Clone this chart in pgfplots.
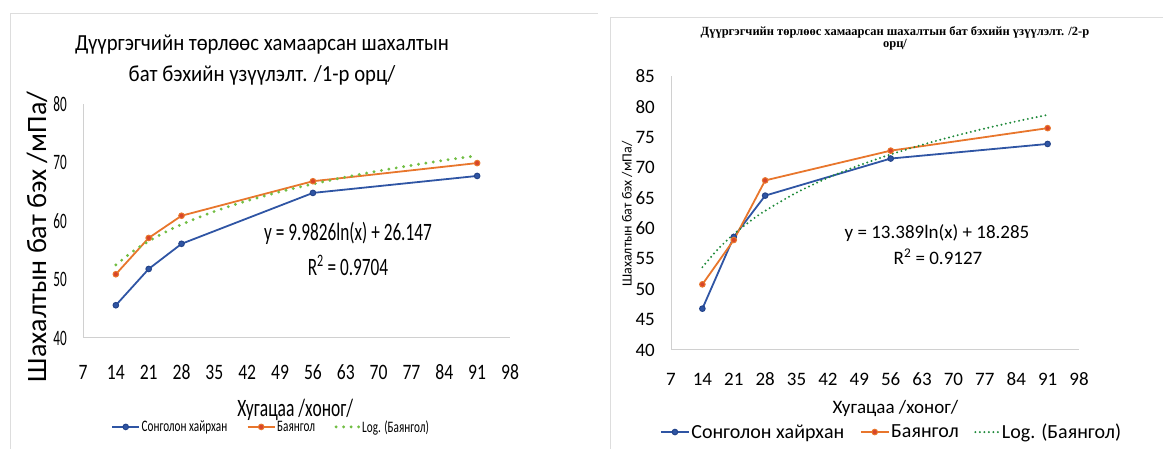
\documentclass[border=0pt]{standalone}
\usepackage{fontspec}
\setmainfont{Carlito}
\usepackage{pgfplots}
\pgfplotsset{compat=1.18}
\newfontfamily\cA[FakeStretch=0.6]{Carlito}
\newfontfamily\cE[FakeStretch=0.69]{Carlito}
\newfontfamily\cB[FakeStretch=0.8]{Carlito}
\newfontfamily\cC[FakeStretch=0.7]{Carlito}
\newfontfamily\cD[FakeStretch=0.9]{Carlito}
\newfontfamily\cN{Carlito}
\newfontfamily\rtf{Liberation Serif}
\newcommand\lytick{\cA\fontsize{22bp}{26bp}\selectfont}
\newcommand\lxtick{\cB\fontsize{22bp}{26bp}\selectfont}
\newcommand\lxlab{\cC\fontsize{25bp}{30bp}\selectfont}
\newcommand\lylab{\cN\fontsize{28bp}{32bp}\selectfont}
\newcommand\lleg{\cC\fontsize{16bp}{19bp}\selectfont}
\newcommand\leqfont{\cE\fontsize{25bp}{30bp}\selectfont}
\newcommand\ltitle{\cD\fontsize{23bp}{30bp}\selectfont}
\newcommand\rtick{\cN\fontsize{19bp}{22bp}\selectfont}
\newcommand\rylab{\cN\fontsize{14bp}{16bp}\selectfont}
\newcommand\rxlab{\cN\fontsize{19bp}{22bp}\selectfont}
\newcommand\rleg{\cN\fontsize{20bp}{24bp}\selectfont}
\newcommand\reqfont{\cN\fontsize{19bp}{23bp}\selectfont}
\newcommand\rtitle{\rtf\bfseries\fontsize{12.5bp}{13bp}\selectfont}
\definecolor{cblue}{HTML}{2F55A4}
\definecolor{cbluedk}{HTML}{24448A}
\definecolor{corange}{HTML}{E8762C}
\definecolor{cored}{HTML}{D8452A}
\definecolor{lgreen}{HTML}{72BE44}
\definecolor{dgreen}{HTML}{1F8A3A}
\definecolor{axgray}{HTML}{D0D0D0}
\definecolor{frgray}{HTML}{DDDDDD}
\pgfplotsset{
  common/.style={
    scale only axis, anchor=south west,
    xmin=7, xmax=98, xtick={7,14,...,98},
    axis x line=bottom, axis y line=left,
    axis line style={draw=axgray, line width=1bp, -},
    major tick length=0pt,
    /pgf/number format/assume math mode=true,
    legend columns=3, legend cell align=left,
    clip=false,
  },
  sblue/.style={color=cblue, line width=1.8bp, mark=*, mark size=2.8bp, mark options={draw=cbluedk, fill=cblue, line width=1bp}},
  sorange/.style={color=corange, line width=1.8bp, mark=*, mark size=2.8bp, mark options={draw=corange, fill=cored, line width=1bp}},
}
\begin{document}
\begin{tikzpicture}
\begin{scope}[x=1bp,y=1bp]
\useasboundingbox (0,0) rectangle (1163,449);
\draw[frgray, line width=0.8bp] (10,0) -- (10,436) -- (598,436);
\draw[frgray, line width=0.8bp] (610,0) -- (610,432) -- (1163,432);
\node[font=\ltitle, inner sep=0pt] at (262,404) {Дүүргэгчийн төрлөөс хамаарсан шахалтын};
\node[font=\ltitle, inner sep=0pt] at (262,374) {бат бэхийн үзүүлэлт. /1-р орц/};
\node[font=\leqfont, inner sep=0pt] at (348,216) {y = 9.9826ln(x) + 26.147};
\node[font=\leqfont, inner sep=0pt] at (348,184) {R\textsuperscript{2} = 0.9704};
\node[font=\rtitle, inner sep=0pt] at (895,417) {Дүүргэгчийн төрлөөс хамаарсан шахалтын бат бэхийн үзүүлэлт. /2-р};
\node[font=\rtitle, inner sep=0pt] at (895,404) {орц/};
\node[font=\reqfont, inner sep=0pt] at (937,216) {y = 13.389ln(x) + 18.285};
\node[font=\reqfont, inner sep=0pt] at (938,192) {R\textsuperscript{2} = 0.9127};
\end{scope}
% ---------------- left panel ----------------
\begin{axis}[common,
  at={(83bp,111bp)}, width=427bp, height=234bp,
  ymin=40, ymax=80, ytick={40,50,...,80},
  yticklabel style={font=\lytick, anchor=east, inner sep=0pt, xshift=-16bp},
  xticklabel style={font=\lxtick, anchor=center, inner sep=0pt, yshift=-34bp},
  xlabel={Хугацаа /хоног/},
  xlabel style={at={(axis description cs:0.497,-0.308)}, anchor=center, font=\lxlab, inner sep=0pt},
  ylabel={Шахалтын бат бэх /мПа/},
  ylabel style={at={(axis description cs:-0.108,0.432)}, anchor=center, font=\lylab, inner sep=0pt},
  legend style={at={(axis description cs:0.44,-0.38)}, anchor=center, draw=none, fill=none, font=\lleg, inner sep=0pt,
    nodes={inner sep=1.5bp},
    /tikz/every even column/.append style={column sep=18bp}},
  legend image code/.code={\draw[mark repeat=2,mark phase=2] plot coordinates {(0bp,0bp)(13.5bp,0bp)(27bp,0bp)};},
]
\addplot[sblue] coordinates {(14,45.6) (21,51.8) (28,56.1) (56,64.8) (91,67.7)};
\addlegendentry{Сонголон хайрхан}
\addplot[sorange] coordinates {(14,50.9) (21,57.1) (28,60.9) (56,66.8) (91,69.9)};
\addlegendentry{Баянгол}
\addplot[lgreen, line width=3.2bp, line cap=round, dash pattern=on 0bp off 7.5bp, smooth,
  legend image code/.code={\draw (2bp,0bp) -- (25bp,0bp);}] coordinates {
  (14,52.49) (17.5,54.72) (21,56.54) (24.5,58.08) (28,59.41) (35,61.64) (42,63.46)
  (49,65.00) (56,66.33) (63,67.51) (70,68.56) (77,69.51) (84,70.38) (91,71.18)};
\addlegendentry{Log. (Баянгол)}
\end{axis}
% ---------------- right panel ----------------
\begin{axis}[common,
  at={(671bp,99bp)}, width=408bp, height=273.5bp,
  ymin=40, ymax=85, ytick={40,45,...,85},
  yticklabel style={font=\rtick, anchor=east, inner sep=0pt, xshift=-16bp},
  xticklabel style={font=\rtick, anchor=center, inner sep=0pt, yshift=-29bp},
  xlabel={Хугацаа /хоног/},
  xlabel style={at={(axis description cs:0.55,-0.212)}, anchor=center, font=\rxlab, inner sep=0pt},
  ylabel={Шахалтын бат бэх /мПа/},
  ylabel style={at={(axis description cs:-0.108,0.497)}, anchor=center, font=\rylab, inner sep=0pt},
  legend style={at={(axis description cs:0.54,-0.30)}, anchor=center, draw=none, fill=none, font=\rleg, inner sep=0pt,
    nodes={inner sep=1.5bp},
    /tikz/every even column/.append style={column sep=14bp}},
  legend image code/.code={\draw[mark repeat=2,mark phase=2] plot coordinates {(0bp,0bp)(14bp,0bp)(28bp,0bp)};},
]
\addplot[sblue] coordinates {(14,46.8) (21,58.6) (28,65.4) (56,71.5) (91,73.9)};
\addlegendentry{Сонголон хайрхан}
\addplot[sorange] coordinates {(14,50.8) (21,58.1) (28,67.9) (56,72.8) (91,76.5)};
\addlegendentry{Баянгол}
\addplot[dgreen, line width=2.2bp, line cap=round, dash pattern=on 0bp off 4.5bp, smooth,
  legend image code/.code={\draw (1bp,0bp) -- (25bp,0bp);}] coordinates {
  (14,53.62) (17.5,56.61) (21,59.05) (24.5,61.11) (28,62.90) (35,65.89) (42,68.33)
  (49,70.39) (56,72.18) (63,73.76) (70,75.17) (77,76.44) (84,77.61) (91,78.68)};
\addlegendentry{Log. (Баянгол)}
\end{axis}
\end{tikzpicture}
\end{document}
